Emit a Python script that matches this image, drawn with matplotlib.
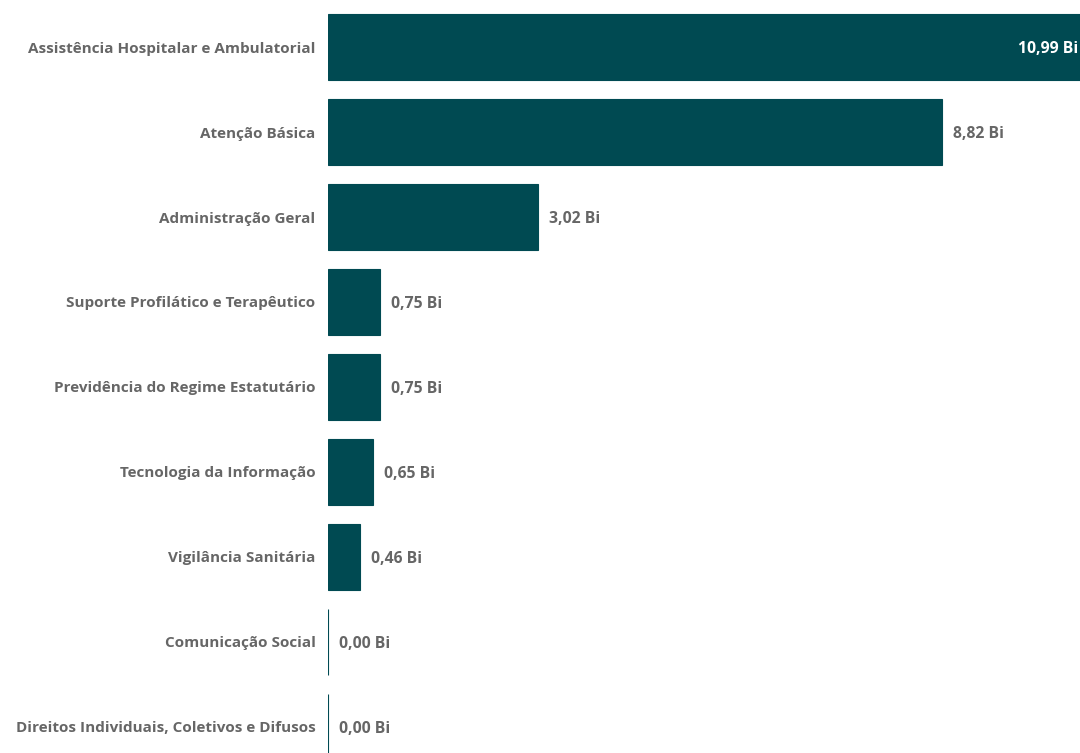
import matplotlib.pyplot as plt

categories = [
    'Assistência Hospitalar e Ambulatorial',
    'Atenção Básica',
    'Administração Geral',
    'Suporte Profilático e Terapêutico',
    'Previdência do Regime Estatutário',
    'Tecnologia da Informação',
    'Vigilância Sanitária',
    'Comunicação Social',
    'Direitos Individuais, Coletivos e Difusos',
]
values = [10.99, 8.82, 3.02, 0.75, 0.75, 0.65, 0.46, 0.00, 0.00]
value_labels = ['10,99 Bi', '8,82 Bi', '3,02 Bi', '0,75 Bi', '0,75 Bi',
                '0,65 Bi', '0,46 Bi', '0,00 Bi', '0,00 Bi']

bar_color = '#004a52'
text_color = '#666666'

plt.rcParams['font.family'] = ['Open Sans', 'DejaVu Sans']

fig = plt.figure(figsize=(10.8, 7.53), dpi=100)
ax = fig.add_axes([328 / 1080, 0, 1 - 328 / 1080, 1])

pos = list(range(len(categories)))
ax.barh(pos, values, height=0.78, color=bar_color, edgecolor=bar_color, linewidth=0.8)

xmax = 10.8
ax.set_xlim(0, xmax)
ax.set_ylim(8.306, -0.553)

for i, (v, lab) in enumerate(zip(values, value_labels)):
    if v > xmax * 0.9:
        ax.annotate(lab, (xmax, i), xytext=(-1, 0), textcoords='offset points',
                    ha='right', va='center_baseline', color='white',
                    fontsize=11.3, fontweight='bold')
    else:
        ax.annotate(lab, (v, i), xytext=(8, 0), textcoords='offset points',
                    ha='left', va='center_baseline', color=text_color,
                    fontsize=11.3, fontweight='bold')

ax.set_yticks(pos)
ax.set_yticklabels(categories, fontsize=11, fontweight='bold', color=text_color)
ax.tick_params(axis='y', length=0, pad=9)
ax.set_xticks([])
for s in ax.spines.values():
    s.set_visible(False)

fig.savefig('out.png', dpi=100)
